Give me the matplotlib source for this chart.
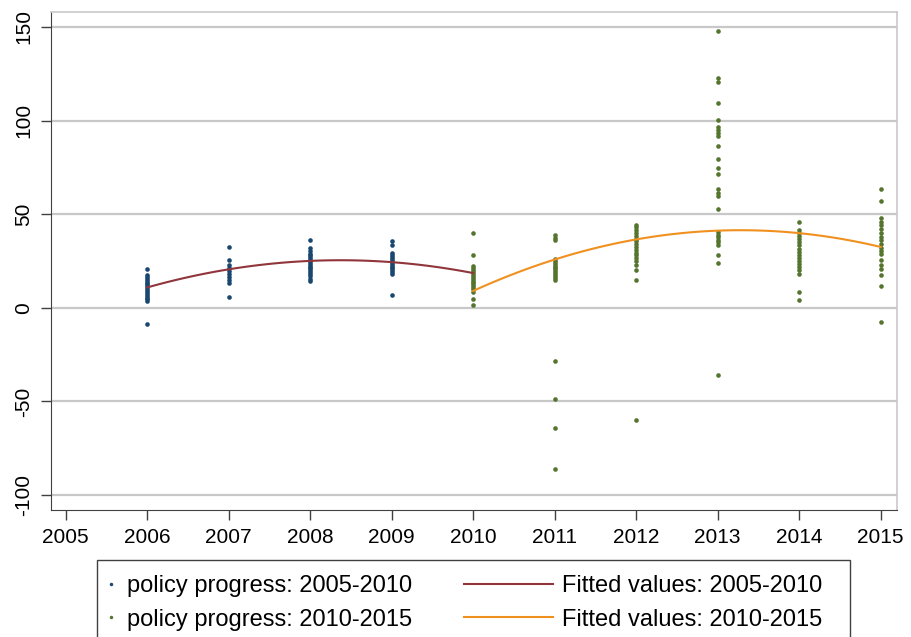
import numpy as np
import matplotlib
matplotlib.use('Agg')
import matplotlib.pyplot as plt
from matplotlib.lines import Line2D
from matplotlib.patches import Rectangle
from matplotlib.legend_handler import HandlerLine2D

plt.rcParams['font.family'] = ['Liberation Sans', 'DejaVu Sans']

# policy progress, 2005-2010 wave (values read per year)
years_a = [2006, 2007, 2008, 2009]
vals_a = [
    [20.7, 17.6, 16.5, 15.5, 14.5, 13.5, 12.5, 11.5, 10.5, 9.5, 8.5, 7.5, 6.5, 5.5, 4.5, 3.4, -8.6],
    [32.4, 25.3, 23.0, 21.0, 19.5, 18.0, 16.5, 15.0, 13.2, 6.0],
    [36.0, 31.9, 30.5, 29.0, 28.0, 27.0, 26.0, 25.0, 24.0, 23.0, 22.0, 21.0, 20.0, 19.0, 18.0, 17.0, 15.5, 14.1],
    [35.5, 33.7, 29.2, 28.0, 27.0, 26.0, 25.0, 24.0, 23.0, 22.0, 21.0, 20.0, 19.0, 18.2, 6.6],
]

# policy progress, 2010-2015 wave
years_b = [2010, 2011, 2012, 2013, 2014, 2015]
vals_b = [
    [39.7, 28.2, 22.1, 21.0, 20.0, 19.0, 18.0, 17.0, 16.0, 15.0, 14.0, 13.0, 12.0, 11.0, 10.0, 8.7, 4.8, 1.6],
    [39.0, 37.5, 36.4, 26.0, 25.0, 24.0, 23.0, 22.0, 21.0, 20.0, 19.0, 18.0, 17.0, 16.0, 15.0, -28.3, -48.7, -64.0, -85.9],
    [44.4, 43.0, 41.5, 40.0, 38.5, 37.0, 35.5, 34.0, 32.5, 31.0, 29.5, 28.0, 26.5, 25.0, 23.0, 20.3, 15.0, -59.7],
    [148.0, 123.0, 120.6, 109.5, 100.5, 96.6, 95.0, 93.3, 91.6, 86.6, 79.7, 74.7, 71.7, 63.5, 61.3, 59.5, 52.8,
     40.3, 39.0, 37.6, 36.3, 35.0, 33.7, 28.3, 23.9, -36.0],
    [45.6, 41.7, 40.0, 38.3, 36.6, 35.0, 33.3, 31.6, 30.0, 28.3, 26.6, 25.0, 23.3, 21.6, 20.0, 18.2, 8.7, 4.3],
    [63.5, 56.9, 48.0, 46.0, 44.0, 42.0, 40.0, 38.0, 36.0, 34.0, 32.0, 30.5, 28.9, 25.7, 23.0, 20.5, 17.6, 11.4, -7.6],
]

# fitted values read at each year
fit_years_a = [2006, 2007, 2008, 2009, 2010]
fit_vals_a = [10.9, 20.5, 25.0, 24.5, 18.5]
fit_years_b = [2010, 2011, 2012, 2013, 2014, 2015]
fit_vals_b = [9.1, 25.7, 36.4, 41.3, 40.0, 32.4]

navy = '#1a476f'
green = '#55752f'
maroon = '#90353b'
orange = '#f0901e'


class LongLine(HandlerLine2D):
    '''legend line that reaches further left than the (short) handle box'''
    def create_artists(self, legend, orig_handle, xdescent, ydescent, width, height, fontsize, trans):
        arts = super().create_artists(legend, orig_handle, xdescent, ydescent, width, height, fontsize, trans)
        right = width - xdescent
        y0 = np.asarray(arts[0].get_ydata())[0]
        arts[0].set_data([right - 3.8*fontsize, right], [y0, y0])
        return arts


fig = plt.figure(figsize=(9.12, 6.37), dpi=100)
ax = fig.add_axes([51/912, 1-510/637, 846/912, 498/637])

for y, v in zip(years_a, vals_a):
    ax.scatter([y]*len(v), v, s=11, color=navy, lw=0, zorder=3)
for y, v in zip(years_b, vals_b):
    ax.scatter([y]*len(v), v, s=11, color=green, lw=0, zorder=3)

# quadratic curve through the read fitted values
ca = np.polyfit(fit_years_a, fit_vals_a, 2)
xa = np.linspace(fit_years_a[0], fit_years_a[-1], 100)
ax.plot(xa, np.polyval(ca, xa), color=maroon, lw=1.5, zorder=4)
cb = np.polyfit(fit_years_b, fit_vals_b, 2)
xb = np.linspace(fit_years_b[0], fit_years_b[-1], 100)
ax.plot(xb, np.polyval(cb, xb), color=orange, lw=1.5, zorder=4)

ax.set_xlim(2004.82, 2015.2)
ax.set_ylim(-108, 158)
ax.set_xticks(range(2005, 2016))
ax.set_yticks([-100, -50, 0, 50, 100, 150])
ax.set_yticklabels(['-100', '-50', '0', '50', '100', '150'], rotation=90, va='center')
ax.grid(axis='y', color='#c8c8c8', lw=1.6, zorder=1)
ax.set_axisbelow(True)
ax.tick_params(axis='both', direction='out', length=7, width=1, color='#404040', labelsize=15)
ax.tick_params(axis='x', pad=6)
ax.tick_params(axis='y', pad=6)
for s in ['left', 'bottom']:
    ax.spines[s].set_color('#404040')
for s in ['top', 'right']:
    ax.spines[s].set_color('#c8c8c8')
    ax.spines[s].set_linewidth(1.2)

h_a = Line2D([], [], ls='', marker='o', ms=2.5, color=navy, mec='none')
h_b = Line2D([], [], ls='', marker='o', ms=2.5, color=green, mec='none')
h_fa = Line2D([], [], color=maroon, lw=1.5)
h_fb = Line2D([], [], color=orange, lw=1.5)
labels = ['policy progress: 2005-2010', 'policy progress: 2010-2015',
          'Fitted values: 2005-2010', 'Fitted values: 2010-2015']
leg = fig.legend([h_a, h_b, h_fa, h_fb], labels, ncol=2, loc='upper left',
                 bbox_to_anchor=(97/912, 1-568/637), borderaxespad=0,
                 fontsize=17, frameon=False,
                 handlelength=0.6, handletextpad=0.35, columnspacing=5.4,
                 labelspacing=0.49, borderpad=0.3,
                 handler_map={h_fa: LongLine(), h_fb: LongLine()})

# legend box, runs off the bottom of the figure as in the original
fig.patches.append(Rectangle((97/912, 1-650/637), 753/912, 90/637, transform=fig.transFigure,
                             fill=False, ec='#404040', lw=1.0, clip_on=False))

fig.savefig('out.png', dpi=100)
